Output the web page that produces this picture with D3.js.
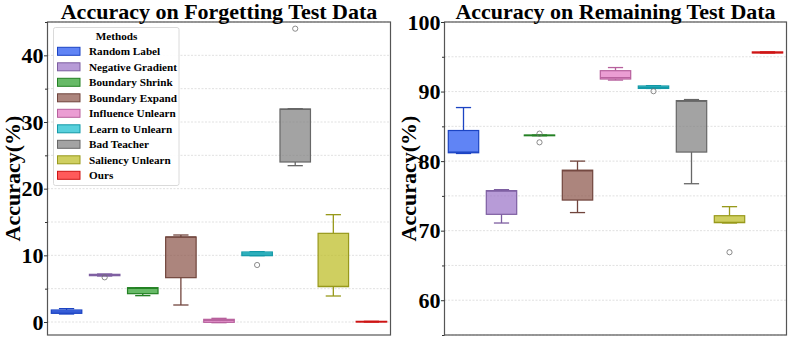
<!DOCTYPE html>
<html>
<head>
<meta charset="utf-8">
<script src="https://cdn.jsdelivr.net/npm/d3@7"></script>
<style>
  body { margin: 0; background: #fff; }
  svg { display: block; }
  text { font-family: "Times New Roman", "Liberation Serif", serif; font-weight: bold; fill: #000; }
</style>
</head>
<body>
<svg id="chart" width="789" height="338"></svg>
<script>
const methods = ["Random Label", "Negative Gradient", "Boundary Shrink", "Boundary Expand",
  "Influence Unlearn", "Learn to Unlearn", "Bad Teacher", "Saliency Unlearn", "Ours"];
const colors = ["#2354f1", "#9b74c8", "#2ca02c", "#8c564b", "#e377c2", "#17becf", "#7f7f7f", "#bcbd22", "#ff1a1a"];

// forgetting test data: whisker low, q1, median, q3, whisker high, outliers
const forgetLo  = [1.2, 6.9, 3.95, 2.55, -0.1, 9.95, 23.45, 3.9, 0.0];
const forgetQ1  = [1.3, 6.95, 4.25, 6.65, -0.05, 9.95, 24.0, 5.3, 0.0];
const forgetMed = [1.5, 7.05, 5.05, 12.75, 0.25, 10.2, 31.9, 5.35, 0.05];
const forgetQ3  = [1.8, 7.15, 5.15, 12.75, 0.4, 10.5, 31.95, 13.3, 0.1];
const forgetHi  = [2.0, 7.2, 5.15, 13.05, 0.55, 10.55, 32.0, 16.1, 0.1];
const forgetOut = [[], [6.7], [], [], [], [8.55], [44.0], [], []];

// remaining test data
const remainLo  = [81.1, 71.1, 83.65, 72.6, 91.65, 90.45, 76.75, 71.1, 95.55];
const remainQ1  = [81.2, 72.35, 83.65, 74.4, 91.8, 90.45, 81.3, 71.15, 95.55];
const remainMed = [81.3, 75.7, 83.7, 78.6, 92.0, 90.6, 88.6, 71.2, 95.6];
const remainQ3  = [84.4, 75.75, 83.75, 78.7, 93.0, 90.8, 88.7, 72.15, 95.7];
const remainHi  = [87.7, 75.9, 83.75, 80.0, 93.45, 90.85, 88.85, 73.45, 95.7];
const remainOut = [[], [], [83.95, 82.7], [], [], [90.05], [], [66.9], []];

const svg = d3.select("#chart");
const plotTop = 22, plotBottom = 335;

function drawPanel(opt) {
  const g = svg.append("g");
  const x = d3.scaleBand().domain(methods).range([opt.x0, opt.x1]).padding(0);
  const y = d3.scaleLinear().domain(opt.domain).range([plotBottom, plotTop]);
  const bw = x.bandwidth() * 0.8;

  // grid every 5
  const gridVals = d3.range(Math.ceil(opt.domain[0] / 5) * 5, opt.domain[1] + 0.01, 5);
  g.selectAll(".grid").data(gridVals).enter().append("line")
    .attr("x1", opt.x0).attr("x2", opt.x1)
    .attr("y1", d => y(d)).attr("y2", d => y(d))
    .attr("stroke", "#d4d4d4").attr("stroke-width", 0.7).attr("stroke-dasharray", "2,1.5");

  // boxes
  const data = methods.map((m, i) => ({
    m, i, lo: opt.lo[i], q1: opt.q1[i], med: opt.med[i], q3: opt.q3[i], hi: opt.hi[i], out: opt.out[i]
  }));
  const box = g.selectAll(".box").data(data).enter().append("g");
  const cx = d => x(d.m) + x.bandwidth() / 2;
  const edge = d => d3.color(colors[d.i]).darker(0.6).formatHex();

  box.append("line").attr("x1", cx).attr("x2", cx)
    .attr("y1", d => y(d.q3)).attr("y2", d => y(d.hi)).attr("stroke", edge).attr("stroke-width", 1.3);
  box.append("line").attr("x1", cx).attr("x2", cx)
    .attr("y1", d => y(d.q1)).attr("y2", d => y(d.lo)).attr("stroke", edge).attr("stroke-width", 1.3);
  box.append("line").attr("x1", d => cx(d) - bw / 4).attr("x2", d => cx(d) + bw / 4)
    .attr("y1", d => y(d.hi)).attr("y2", d => y(d.hi)).attr("stroke", edge).attr("stroke-width", 1.3);
  box.append("line").attr("x1", d => cx(d) - bw / 4).attr("x2", d => cx(d) + bw / 4)
    .attr("y1", d => y(d.lo)).attr("y2", d => y(d.lo)).attr("stroke", edge).attr("stroke-width", 1.3);
  box.append("rect")
    .attr("x", d => cx(d) - bw / 2).attr("width", bw)
    .attr("y", d => y(d.q3)).attr("height", d => Math.max(0.5, y(d.q1) - y(d.q3)))
    .attr("fill", d => colors[d.i]).attr("fill-opacity", 0.72)
    .attr("stroke", edge).attr("stroke-width", 1.2);
  box.append("line").attr("x1", d => cx(d) - bw / 2).attr("x2", d => cx(d) + bw / 2)
    .attr("y1", d => y(d.med)).attr("y2", d => y(d.med)).attr("stroke", edge).attr("stroke-width", 1.2);
  box.selectAll("circle").data(d => d.out.map(v => ({ v, d }))).enter().append("circle")
    .attr("cx", o => cx(o.d)).attr("cy", o => y(o.v)).attr("r", 2.6)
    .attr("fill", "none").attr("stroke", "#6f6f6f").attr("stroke-width", 0.8);

  // frame
  g.append("rect").attr("x", opt.x0).attr("y", plotTop).attr("width", opt.x1 - opt.x0).attr("height", plotBottom - plotTop)
    .attr("fill", "none").attr("stroke", "#555").attr("stroke-width", 1.2);

  // y axis: minor + major ticks
  const majors = gridVals.filter(v => Math.abs(v % 10) < 1e-6);
  const minors = gridVals.filter(v => Math.abs(v % 10) >= 1e-6);
  const minorAxis = g.append("g").attr("transform", `translate(${opt.x0},0)`)
    .call(d3.axisLeft(y).tickValues(minors).tickSize(2.5).tickFormat(""));
  const majorAxis = g.append("g").attr("transform", `translate(${opt.x0},0)`)
    .call(d3.axisLeft(y).tickValues(majors).tickSize(3.5).tickPadding(0.5).tickFormat(d3.format("d")));
  [minorAxis, majorAxis].forEach(a => {
    a.select(".domain").remove();
    a.selectAll("line").attr("stroke", "#333").attr("stroke-width", 1);
  });
  majorAxis.selectAll("text")
    .style("font-family", "'Times New Roman', 'Liberation Serif', serif")
    .style("font-weight", "bold").style("font-size", "22px").attr("fill", "#000");

  // y label
  g.append("text")
    .attr("transform", `translate(${opt.labelX},${(plotTop + plotBottom) / 2}) rotate(-90)`)
    .attr("text-anchor", "middle").style("font-size", "22px")
    .text("Accuracy(%)");

  // title
  g.append("text").attr("x", (opt.x0 + opt.x1) / 2).attr("y", 18.5)
    .attr("text-anchor", "middle").style("font-size", "22px")
    .text(opt.title);

  return g;
}

const leftPanel = drawPanel({
  x0: 47.5, x1: 390.5, domain: [-1.95, 45], labelX: 19.5,
  lo: forgetLo, q1: forgetQ1, med: forgetMed, q3: forgetQ3, hi: forgetHi, out: forgetOut,
  title: "Accuracy on Forgetting Test Data"
});

drawPanel({
  x0: 444.5, x1: 786.5, domain: [55, 100], labelX: 415.5,
  lo: remainLo, q1: remainQ1, med: remainMed, q3: remainQ3, hi: remainHi, out: remainOut,
  title: "Accuracy on Remaining Test Data"
});

// legend
const legend = leftPanel.append("g");
legend.append("rect").attr("x", 53.5).attr("y", 27.5).attr("width", 125.5).attr("height", 158)
  .attr("rx", 2).attr("fill", "#fff").attr("fill-opacity", 0.9)
  .attr("stroke", "#d0d0d0").attr("stroke-width", 0.8);
legend.append("text").attr("x", 116.5).attr("y", 39.8).attr("text-anchor", "middle")
  .style("font-size", "11.2px").text("Methods");
const items = legend.selectAll(".item").data(methods).enter().append("g")
  .attr("transform", (d, i) => `translate(0,${51.3 + i * 15.5})`);
items.append("rect").attr("x", 57.5).attr("y", -4).attr("width", 22.5).attr("height", 8)
  .attr("fill", (d, i) => colors[i]).attr("fill-opacity", 0.72)
  .attr("stroke", (d, i) => d3.color(colors[i]).darker(0.6).formatHex()).attr("stroke-width", 1);
items.append("text").attr("x", 89).attr("y", 4).style("font-size", "11.2px").text(d => d);
</script>
</body>
</html>
